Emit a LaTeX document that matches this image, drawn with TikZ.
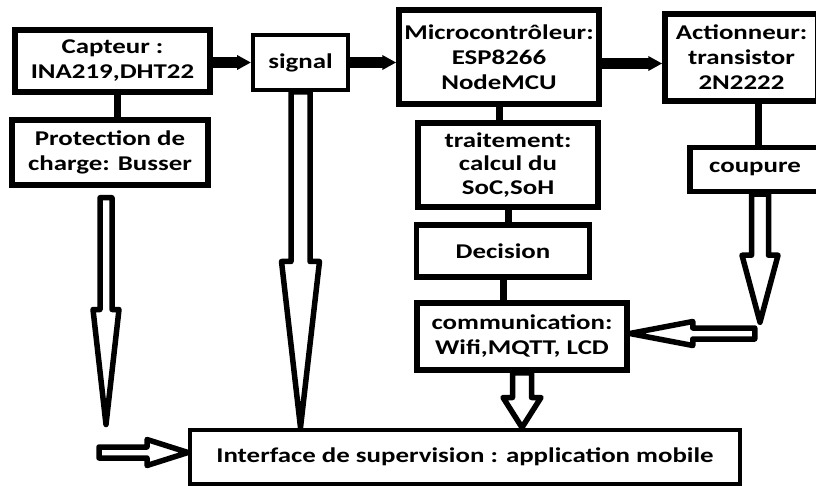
\documentclass[tikz,border=0pt]{standalone}
\usepackage{fontspec}
\setmainfont[FakeStretch=1.28]{Carlito}
\usetikzlibrary{calc,arrows.meta}

% hollow block arrow from #1 (tail) to #2 (tip):
% #3 shaft half width, #4 head half width, #5 head length
\newcommand\hollowarrow[5]{%
  \path ($(#2)!#5!(#1)$) coordinate (hb);
  \draw[hollow] ($(#1)!#3!90:(#2)$) -- ($(hb)!#3!-90:(#1)$) -- ($(hb)!#4!-90:(#1)$)
    -- (#2) -- ($(hb)!#4!90:(#1)$) -- ($(hb)!#3!90:(#1)$) -- ($(#1)!#3!-90:(#2)$) -- cycle;}

\begin{document}
\begin{tikzpicture}[x=1pt,y=-1pt,
  box/.style={draw, line width=5.5pt, inner sep=0pt, align=center,
    font=\fontsize{21}{25}\selectfont\bfseries},
  thinbox/.style={box, line width=4pt},
  link/.style={draw, line width=7pt},
  bar/.style={draw, line width=11pt, -{Triangle[length=14pt,width=14pt]}},
  hollow/.style={draw, line width=5.5pt, fill=white, line join=round}]
\useasboundingbox (0,0) rectangle (816,486);

% blocks
\node[box, minimum width=195pt, minimum height=62pt] (capt) at (112.5,61) {Capteur :\\INA219,DHT22};
\node[box, minimum width=196pt, minimum height=65pt] (prot) at (110,152.5) {Protection de\\charge: Busser};
\node[thinbox, minimum width=95pt, minimum height=55pt] (sig) at (300.5,62.5) {signal};
\node[box, minimum width=200pt, minimum height=94pt] (mcu) at (499,57) {Microcontrôleur:\\ESP8266\\NodeMCU};
\node[box, minimum width=153pt, minimum height=87pt] (act) at (741.5,57.5) {Actionneur:\\transistor\\2N2222};
\node[box, minimum width=180pt, minimum height=84pt, font=\fontsize{21}{23.5}\selectfont\bfseries] (trait) at (508,165) {traitement:\\calcul du\\SoC,SoH};
\node[box, minimum width=173pt, minimum height=52pt] (dec) at (503,251) {Decision};
\node[box, minimum width=210pt, minimum height=67pt] (comm) at (522,336.5) {communication:\\Wifi,MQTT, LCD};
\node[box, minimum width=130pt, minimum height=44pt] (coup) at (755,169.5) {\raisebox{4pt}{coupure}};
\node[thinbox, minimum width=550pt, minimum height=54pt] (iface) at (465,456.5) {Interface de supervision : application mobile};

% plain links between stacked blocks
\draw[link] ([xshift=5pt]capt.south) -- ([xshift=5pt]capt.south |- prot.north);
\draw[link] (mcu.south) -- (mcu.south |- trait.north);
\draw[link] (trait.south) -- (trait.south |- dec.north);
\draw[link] (dec.south) -- (dec.south |- comm.north);
\draw[link] ([xshift=17pt]act.south) -- ([xshift=17pt]act.south |- coup.north);

% solid arrows along the top row
\draw[bar] (capt.east |- sig.west) -- (sig.west);
\draw[bar] (sig.east) -- (sig.east -| mcu.west);
\draw[bar] ([yshift=-6pt]mcu.east |- act.west) -- ([yshift=-6pt]act.west);

% hollow arrows
\coordinate (a1) at ($(prot.south)+(-4,10)$);
\coordinate (a1tip) at ($(a1 |- iface.north)+(0,-3)$);
\hollowarrow{a1}{a1tip}{6pt}{13pt}{115pt}

\coordinate (a2tip) at (sig.south |- iface.north);
\hollowarrow{sig.south}{a2tip}{9.5pt}{19pt}{166pt}

\coordinate (a3) at ($(coup.south)+(5,0)$);
\coordinate (a3tip) at ($(coup.south)+(5,128)$);
\hollowarrow{a3}{a3tip}{8.5pt}{18pt}{67pt}

\coordinate (a4) at ($(comm.east)+(125,-3)$);
\coordinate (a4tip) at ($(comm.east)+(0,-3)$);
\hollowarrow{a4}{a4tip}{5.5pt}{12pt}{63pt}

\coordinate (a5tip) at (comm.south |- iface.north);
\hollowarrow{comm.south}{a5tip}{9.5pt}{19pt}{30pt}

\coordinate (a6) at ($(iface.west)+(-89,-4)$);
\coordinate (a6tip) at ($(iface.west)+(0,-4)$);
\hollowarrow{a6}{a6tip}{5.5pt}{13pt}{41pt}
\end{tikzpicture}
\end{document}
